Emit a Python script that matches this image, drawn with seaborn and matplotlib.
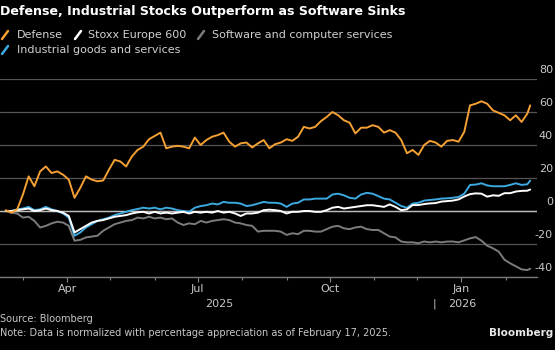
import matplotlib
matplotlib.use("Agg")
import matplotlib.dates as mdates
import matplotlib.pyplot as plt
import pandas as pd
import seaborn as sns
from matplotlib.lines import Line2D

sns.set_style("white")
plt.rcParams["font.family"] = ["DejaVu Sans"]

# values read every 4 days from Feb 17, 2025, last point Feb 18, 2026
dates = list(pd.date_range("2025-02-17", periods=92, freq="4D")) + [pd.Timestamp("2026-02-18")]

defense = [
    0.5, -1, 1, 10, 21, 15, 24, 27, 23, 24, 22, 19, 8, 14, 21, 19, 18, 18.5, 25, 31, 30, 27, 33, 37,
    39, 43.5, 45.5, 47.5, 38, 39, 39.5, 39, 38, 44.5, 40, 43, 45, 46, 47.5, 42, 39, 41, 41.5, 38.5, 41, 43, 38,
    40.5, 41.5, 43.5, 42.5, 45, 51, 50, 51, 54.5, 57, 60, 58, 55, 53.5, 47, 50.5, 50.5, 52, 51, 47.5, 49, 47.5, 43, 35,
    37, 34, 40, 42.5, 41.5, 39, 42.5, 43, 42, 48, 64, 65, 66.5, 65, 61, 59.5, 58, 55, 58, 54, 59, 64,
]
stoxx = [
    0, 0, 0.5, 1, 1.5, 0, 0.5, 1.5, 0.5, 0, -1, -3, -13, -11, -9, -7, -6, -5.5, -4.5, -3.5, -3, -2.5, -1.5, -0.8,
    -0.5, -1.5, -0.5, -1.5, -1, -1.5, -1, -0.5, -1.5, -0.5, -1, -0.5, -1, 0, -1, -0.5, -1.5, -3, -1.5, -1.5, -1, 0.5, 0.8,
    0.5, 0, -1.5, -0.5, -0.5, 0, 0, -0.5, -0.5, 0.5, 2, 2.5, 1.5, 2, 2.5, 3, 3.5, 3.5, 3, 2.5, 4, 2.5, 0.5, 1,
    3.6, 3.6, 4.2, 4.6, 4.8, 5.7, 6, 6.3, 7, 8.8, 10.2, 10.7, 10.5, 8.7, 9.5, 9.2, 10.8, 10.8, 11.8, 12.2, 12.3, 13,
]
software = [
    0, -1, -1.5, -4, -3.5, -6, -10, -9, -7.5, -6.5, -7, -9, -18, -17.5, -16, -15.5, -15, -12, -10, -8, -7, -6, -5.5, -4,
    -4.5, -3.5, -4.5, -4, -5, -4.5, -7, -8.5, -7.5, -8, -6, -7, -6, -5.5, -5, -5.5, -7, -7.5, -8.5, -9, -12.5, -12, -12,
    -12, -12.5, -14.5, -13.5, -14, -12, -12, -12.5, -12.5, -11, -9.5, -9, -10.5, -11, -10, -9.5, -11, -11.5, -11.5, -13.5, -15.5, -16, -18.5, -19,
    -19, -19.5, -18.5, -19, -18.5, -19, -18.5, -18.5, -19, -17.8, -16.6, -15.8, -18, -21, -22.6, -24.6, -29.5, -31.7, -33.5, -35.4, -35.8, -35,
]
industrial = [
    0, 0, 1, 1.5, 2.5, 0.5, 1, 2.5, 1, 0, -1.5, -4, -15, -13, -10, -8, -6, -5, -4, -2.5, -1.5, -0.5, 0.5, 1.2,
    2, 1.5, 2, 1, 2, 1.5, 0.5, 0, -0.5, 2, 3, 3.5, 4.5, 4, 5.5, 5, 5, 4.5, 3, 3.5, 4.5, 5.5, 5,
    5, 4.5, 2.5, 4.5, 5, 7, 7, 7.5, 7.5, 7.5, 10, 10.5, 9.5, 8, 7.5, 10, 11, 10.5, 9, 7.5, 7, 5, 3, 2,
    4.5, 5, 6.3, 6.7, 7, 7.5, 7.7, 8, 8.5, 10.5, 15.8, 16, 16.8, 15.5, 15, 15, 15, 15.8, 16.8, 15.8, 16.2, 18.4,
]

series = ["Defense", "Stoxx Europe 600", "Software and computer services", "Industrial goods and services"]
colors = ["#f5a033", "#ffffff", "#7c7c7c", "#3ca9e0"]
y_ticks = [-40, -20, 0, 20, 40, 60, 80]

df = pd.DataFrame({
    "date": dates,
    series[0]: defense,
    series[1]: stoxx,
    series[2]: software,
    series[3]: industrial,
}).melt(id_vars="date", var_name="series", value_name="value")

W, H = 555, 350
fig = plt.figure(figsize=(W / 100, H / 100), dpi=100, facecolor="black")
ax = fig.add_axes([0, 1 - 277 / H, 537 / W, (277 - 79) / H])
ax.set_facecolor("black")

# white drawn over blue, orange on top
draw_order = [series[2], series[3], series[1], series[0]]
sns.lineplot(
    data=df, x="date", y="value", hue="series", hue_order=draw_order,
    palette=dict(zip(series, colors)), linewidth=1.4, legend=False, ax=ax,
)

ax.set_xlim(pd.Timestamp("2025-02-13"), pd.Timestamp("2026-02-22 18:00"))
ax.set_ylim(-40, 80)
ax.set_xlabel("")
ax.set_ylabel("")

ax.set_yticks(y_ticks)
ax.grid(axis="y", color="#555555", linewidth=0.9)
ax.grid(axis="x", visible=False)
ax.set_axisbelow(True)
ax.axhline(0, color="#bdbdbd", linewidth=1, zorder=1.5)
for s in ["top", "left", "right"]:
    ax.spines[s].set_visible(False)
ax.spines["bottom"].set_color("#777777")
ax.spines["bottom"].set_linewidth(1)
ax.tick_params(axis="y", length=0, labelleft=False)

ax.xaxis.set_major_locator(mdates.MonthLocator(bymonth=[1, 4, 7, 10]))
ax.xaxis.set_minor_locator(mdates.MonthLocator())
ax.xaxis.set_major_formatter(mdates.DateFormatter("%b"))
ax.tick_params(axis="x", which="major", length=3.6, width=0.8, color="#888888",
               labelcolor="#c8c8c8", labelsize=8, pad=1.5, direction="out", bottom=True)
ax.tick_params(axis="x", which="minor", length=2.2, width=0.8, color="#888888", bottom=True)

for v in y_ticks:
    ax.text(553 / 537, v + 5.4, f"{v}", transform=ax.get_yaxis_transform(),
            ha="right", va="center", color="#c8c8c8", fontsize=8)

# year labels under the month labels
fig.text(219 / W, 1 - 304 / H, "2025", ha="center", va="center", color="#c8c8c8", fontsize=8)
fig.text(434 / W, 1 - 304 / H, "|", ha="center", va="center", color="#c8c8c8", fontsize=8)
fig.text(462 / W, 1 - 304 / H, "2026", ha="center", va="center", color="#c8c8c8", fontsize=8)

fig.text(0, 1 - 12 / H, "Defense, Industrial Stocks Outperform as Software Sinks",
         ha="left", va="center", color="white", fontsize=9.05, fontweight="bold")

# legend: small slanted strokes
legend_items = [(0, 2, 17, 35), (1, 75, 88, 35), (2, 198, 212, 35), (3, 2, 17, 50)]
for i, ix, tx, ly in legend_items:
    fig.add_artist(Line2D([ix / W, (ix + 6) / W], [1 - (ly + 4) / H, 1 - (ly - 4) / H],
                          color=colors[i], linewidth=1.8))
    fig.text(tx / W, 1 - ly / H, series[i], ha="left", va="center", color="#d0d0d0", fontsize=8)

fig.text(0, 1 - 319 / H, "Source: Bloomberg", ha="left", va="center", color="#c8c8c8", fontsize=7)
fig.text(0, 1 - 333 / H, "Note: Data is normalized with percentage appreciation as of February 17, 2025.",
         ha="left", va="center", color="#c8c8c8", fontsize=7)
fig.text(553 / W, 1 - 333 / H, "Bloomberg", ha="right", va="center", color="#e8e8e8",
         fontsize=7.5, fontweight="bold")

fig.savefig("out.png", dpi=100, facecolor="black")
